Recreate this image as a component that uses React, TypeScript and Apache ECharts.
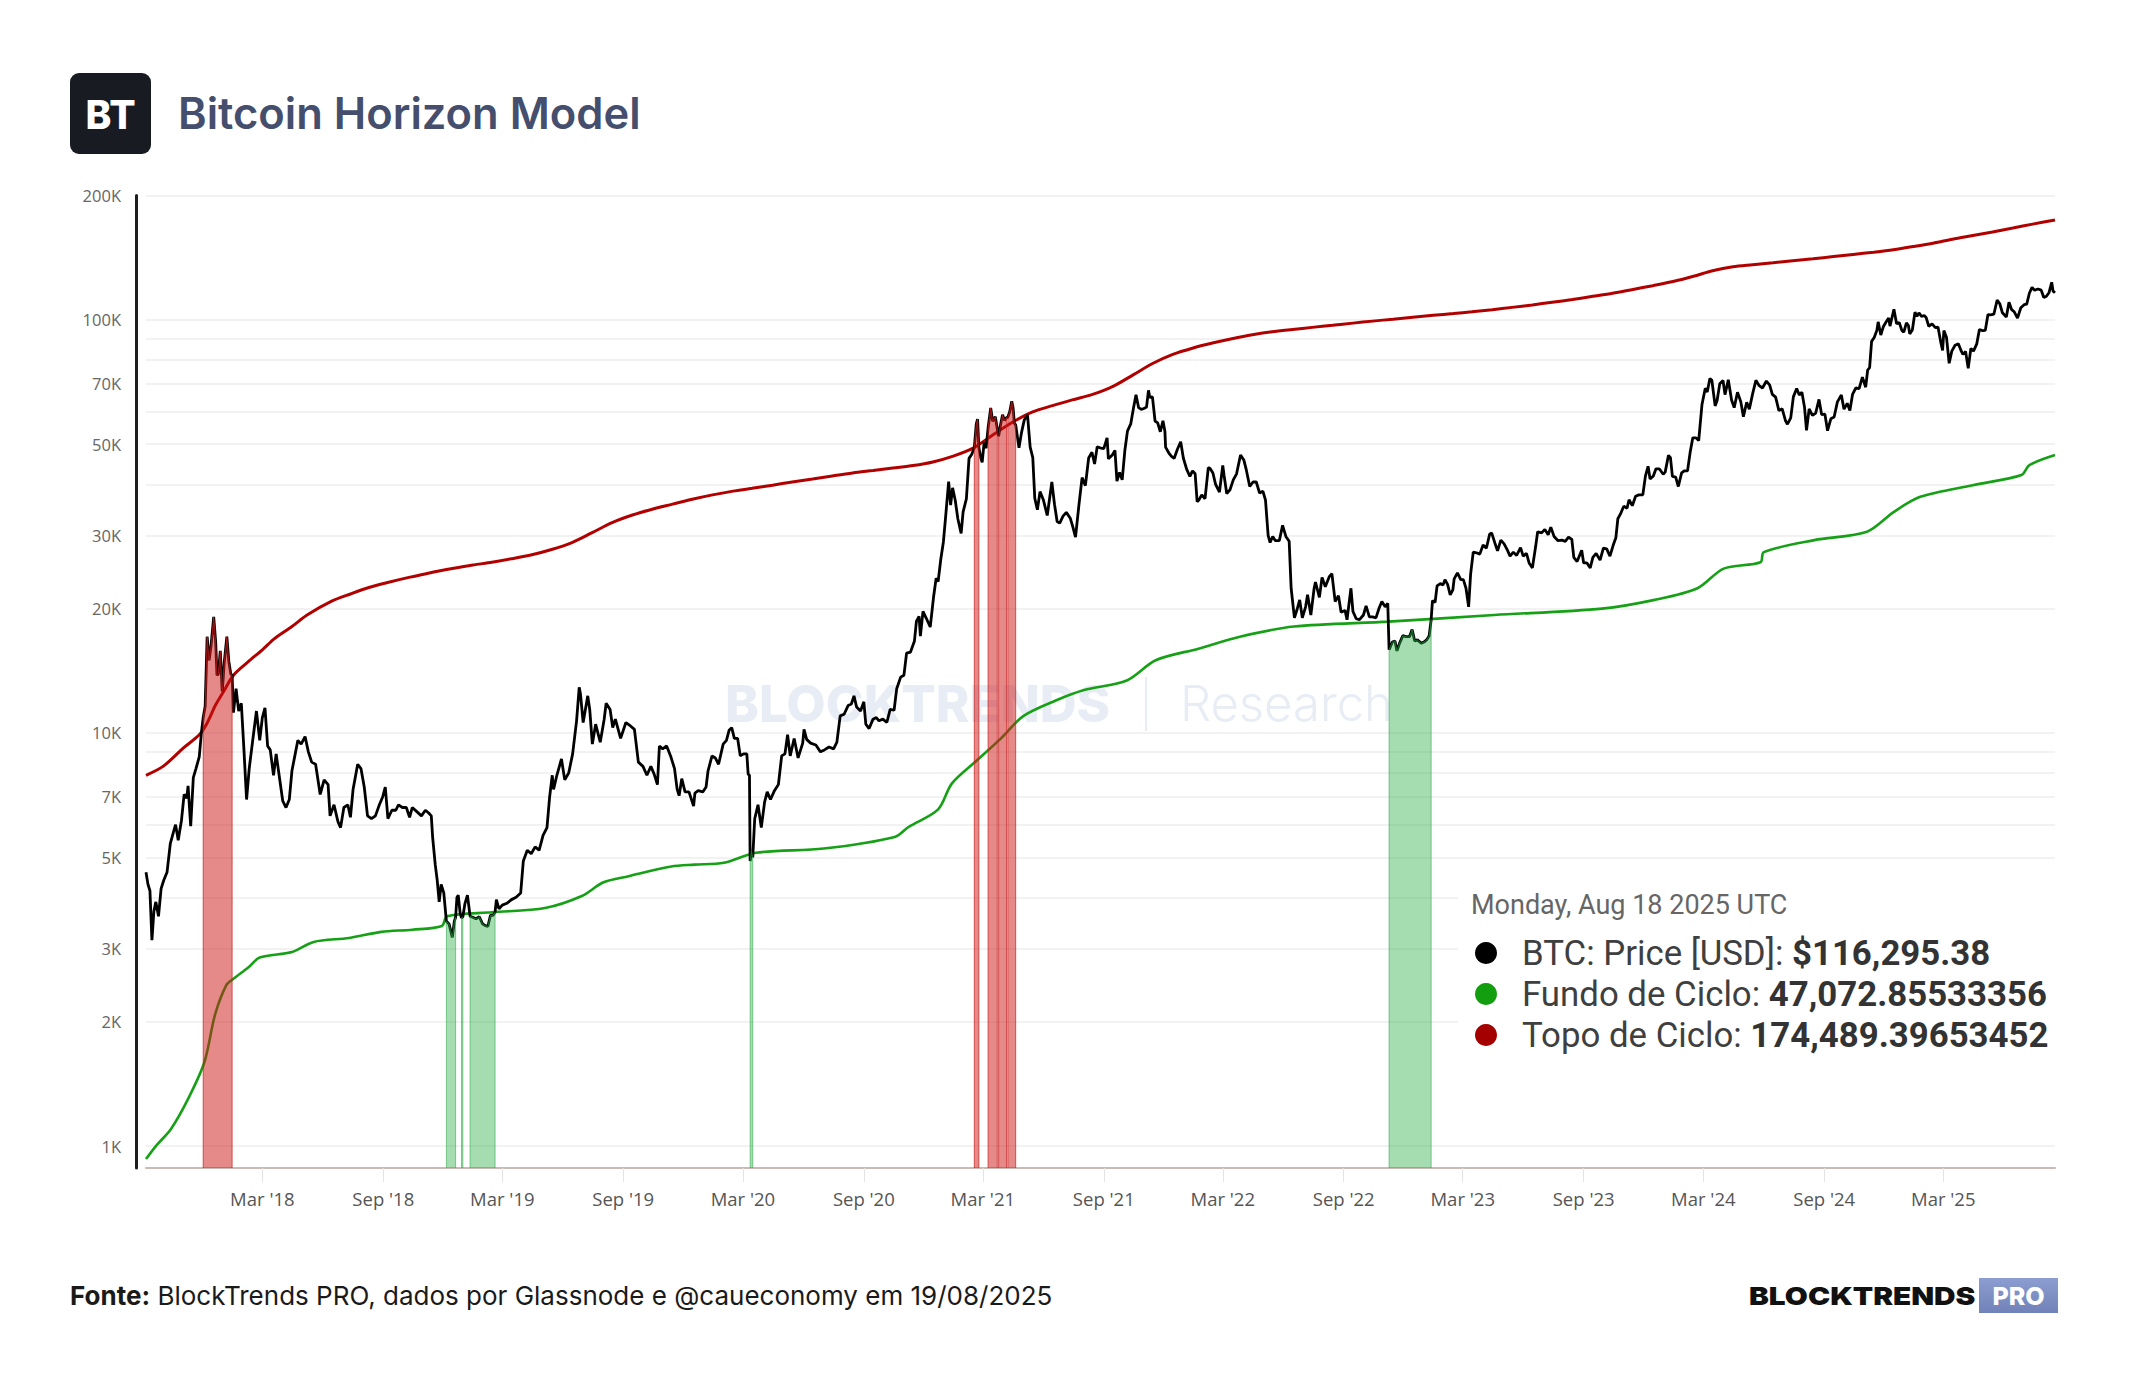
import React, { useEffect, useRef } from 'react';
import * as echarts from 'echarts';

// ---- axis setup -------------------------------------------------------
const xStart = '2017-09-05';
const xEnd = '2025-08-18';
const xTickDates = [
  '2018-03-01', '2018-09-01', '2019-03-01', '2019-09-01', '2020-03-01', '2020-09-01', '2021-03-01',
  '2021-09-01', '2022-03-01', '2022-09-01', '2023-03-01', '2023-09-01', '2024-03-01', '2024-09-01', '2025-03-01',
];
const yMinValue = 885;
const yMaxValue = 200000;
const yGridValues = [
  1000, 2000, 3000, 4000, 5000, 6000, 7000, 8000, 9000,
  10000, 20000, 30000, 40000, 50000, 60000, 70000, 80000, 90000, 100000, 200000,
];
const yLabelValues = [1000, 2000, 3000, 5000, 7000, 10000, 20000, 30000, 50000, 70000, 100000, 200000];

// ---- BTC price (USD) ---------------------------------------------------
const btcPrice: [string, number][] = [
  ['2017-09-05', 4600], ['2017-09-08', 4300], ['2017-09-11', 4150], ['2017-09-14', 3150], ['2017-09-17', 3700],
  ['2017-09-20', 3900], ['2017-09-24', 3600], ['2017-09-28', 4200], ['2017-10-02', 4400], ['2017-10-07', 4600],
  ['2017-10-12', 5400], ['2017-10-16', 5700], ['2017-10-20', 6000], ['2017-10-24', 5500], ['2017-10-29', 6150],
  ['2017-11-02', 7100], ['2017-11-06', 6950], ['2017-11-08', 7450], ['2017-11-12', 5950], ['2017-11-16', 7800],
  ['2017-11-20', 8200], ['2017-11-25', 8750], ['2017-11-28', 9900], ['2017-12-01', 10900], ['2017-12-04', 11600],
  ['2017-12-07', 17100], ['2017-12-10', 15000], ['2017-12-13', 16300], ['2017-12-17', 19100], ['2017-12-20', 16600],
  ['2017-12-22', 13800], ['2017-12-24', 13900], ['2017-12-27', 15800], ['2017-12-30', 12600], ['2018-01-02', 14800],
  ['2018-01-06', 17100], ['2018-01-09', 14900], ['2018-01-12', 13900], ['2018-01-14', 13800], ['2018-01-16', 11200],
  ['2018-01-20', 12800], ['2018-01-24', 11300], ['2018-01-28', 11800], ['2018-02-01', 9100], ['2018-02-05', 6900],
  ['2018-02-09', 8200], ['2018-02-14', 9500], ['2018-02-20', 11300], ['2018-02-25', 9600], ['2018-03-01', 10900],
  ['2018-03-05', 11500], ['2018-03-09', 9300], ['2018-03-13', 9100], ['2018-03-18', 7900], ['2018-03-22', 8900],
  ['2018-03-27', 7800], ['2018-04-01', 6850], ['2018-04-06', 6600], ['2018-04-11', 6900], ['2018-04-15', 8100],
  ['2018-04-20', 8900], ['2018-04-24', 9600], ['2018-04-29', 9400], ['2018-05-05', 9800], ['2018-05-10', 9000],
  ['2018-05-15', 8500], ['2018-05-21', 8400], ['2018-05-28', 7100], ['2018-06-03', 7700], ['2018-06-09', 7500],
  ['2018-06-12', 6300], ['2018-06-18', 6700], ['2018-06-24', 6100], ['2018-06-28', 5900], ['2018-07-03', 6600],
  ['2018-07-09', 6700], ['2018-07-13', 6250], ['2018-07-17', 7300], ['2018-07-24', 8400], ['2018-07-29', 8200],
  ['2018-08-03', 7400], ['2018-08-08', 6300], ['2018-08-14', 6200], ['2018-08-20', 6300], ['2018-08-26', 6700],
  ['2018-08-31', 7000], ['2018-09-04', 7400], ['2018-09-08', 6200], ['2018-09-14', 6500], ['2018-09-20', 6500],
  ['2018-09-24', 6700], ['2018-09-30', 6600], ['2018-10-06', 6600], ['2018-10-11', 6250], ['2018-10-15', 6600],
  ['2018-10-22', 6450], ['2018-10-29', 6300], ['2018-11-04', 6500], ['2018-11-09', 6400], ['2018-11-13', 6300],
  ['2018-11-15', 5600], ['2018-11-19', 4800], ['2018-11-22', 4400], ['2018-11-25', 3900], ['2018-11-28', 4300],
  ['2018-12-02', 4100], ['2018-12-06', 3500], ['2018-12-10', 3450], ['2018-12-15', 3200], ['2018-12-18', 3500],
  ['2018-12-20', 3580], ['2018-12-22', 4000], ['2018-12-24', 4050], ['2018-12-27', 3650], ['2018-12-29', 3570],
  ['2018-12-31', 3590], ['2019-01-03', 3850], ['2019-01-07', 4050], ['2019-01-11', 3600], ['2019-01-15', 3580],
  ['2019-01-20', 3550], ['2019-01-25', 3590], ['2019-01-30', 3450], ['2019-02-03', 3420], ['2019-02-07', 3400],
  ['2019-02-11', 3620], ['2019-02-15', 3620], ['2019-02-18', 3680], ['2019-02-20', 3950], ['2019-02-24', 3750],
  ['2019-03-01', 3830], ['2019-03-08', 3870], ['2019-03-15', 3950], ['2019-03-22', 4000], ['2019-03-29', 4100],
  ['2019-04-02', 4900], ['2019-04-08', 5200], ['2019-04-14', 5100], ['2019-04-20', 5300], ['2019-04-26', 5200],
  ['2019-05-02', 5650], ['2019-05-08', 5900], ['2019-05-12', 7000], ['2019-05-16', 7900], ['2019-05-18', 7300],
  ['2019-05-23', 7900], ['2019-05-30', 8650], ['2019-06-04', 7700], ['2019-06-10', 8000], ['2019-06-16', 8900],
  ['2019-06-22', 10700], ['2019-06-26', 12900], ['2019-06-28', 12400], ['2019-07-02', 10600], ['2019-07-09', 12300],
  ['2019-07-12', 11400], ['2019-07-16', 9400], ['2019-07-21', 10500], ['2019-07-28', 9500], ['2019-08-03', 10800],
  ['2019-08-06', 11800], ['2019-08-12', 11400], ['2019-08-16', 10300], ['2019-08-20', 10800], ['2019-08-28', 9700],
  ['2019-09-05', 10600], ['2019-09-12', 10400], ['2019-09-18', 10200], ['2019-09-24', 8500], ['2019-10-01', 8300],
  ['2019-10-07', 7900], ['2019-10-13', 8300], ['2019-10-18', 7950], ['2019-10-23', 7500], ['2019-10-26', 9300],
  ['2019-10-31', 9150], ['2019-11-06', 9300], ['2019-11-12', 8800], ['2019-11-18', 8200], ['2019-11-22', 7300],
  ['2019-11-25', 7050], ['2019-11-29', 7750], ['2019-12-04', 7200], ['2019-12-10', 7200], ['2019-12-17', 6650],
  ['2019-12-19', 7150], ['2019-12-24', 7250], ['2019-12-31', 7200], ['2020-01-05', 7400], ['2020-01-08', 8100],
  ['2020-01-14', 8800], ['2020-01-19', 8700], ['2020-01-24', 8400], ['2020-01-31', 9400], ['2020-02-05', 9600],
  ['2020-02-09', 10150], ['2020-02-13', 10300], ['2020-02-17', 9700], ['2020-02-22', 9700], ['2020-02-26', 8800],
  ['2020-03-02', 8900], ['2020-03-07', 8900], ['2020-03-09', 7950], ['2020-03-11', 7900], ['2020-03-12', 4900],
  ['2020-03-14', 5200], ['2020-03-16', 5000], ['2020-03-19', 6200], ['2020-03-24', 6700], ['2020-03-29', 5900],
  ['2020-04-03', 6800], ['2020-04-07', 7200], ['2020-04-12', 6900], ['2020-04-18', 7250], ['2020-04-24', 7500],
  ['2020-04-29', 8800], ['2020-05-04', 8900], ['2020-05-08', 9900], ['2020-05-12', 8800], ['2020-05-18', 9700],
  ['2020-05-24', 8700], ['2020-05-31', 9450], ['2020-06-02', 10200], ['2020-06-06', 9650], ['2020-06-12', 9450],
  ['2020-06-20', 9350], ['2020-06-27', 9000], ['2020-07-03', 9100], ['2020-07-10', 9250], ['2020-07-17', 9150],
  ['2020-07-22', 9500], ['2020-07-27', 11000], ['2020-08-02', 11100], ['2020-08-08', 11650], ['2020-08-13', 11750],
  ['2020-08-17', 12300], ['2020-08-21', 11550], ['2020-08-27', 11300], ['2020-09-01', 11900], ['2020-09-04', 10500],
  ['2020-09-09', 10250], ['2020-09-15', 10800], ['2020-09-20', 10900], ['2020-09-24', 10700], ['2020-09-30', 10800],
  ['2020-10-06', 10600], ['2020-10-11', 11400], ['2020-10-17', 11350], ['2020-10-21', 12800], ['2020-10-27', 13650],
  ['2020-11-01', 13800], ['2020-11-05', 15600], ['2020-11-11', 15700], ['2020-11-17', 16700], ['2020-11-20', 18650],
  ['2020-11-24', 19150], ['2020-11-26', 17150], ['2020-11-30', 19700], ['2020-12-05', 18950], ['2020-12-11', 18050],
  ['2020-12-16', 21300], ['2020-12-20', 23700], ['2020-12-23', 23250], ['2020-12-27', 26300], ['2020-12-31', 29000],
  ['2021-01-03', 32800], ['2021-01-08', 40600], ['2021-01-11', 35600], ['2021-01-14', 39200], ['2021-01-18', 36600],
  ['2021-01-22', 33000], ['2021-01-27', 30400], ['2021-01-30', 34300], ['2021-02-04', 36900], ['2021-02-08', 46200],
  ['2021-02-12', 47200], ['2021-02-16', 49000], ['2021-02-19', 55900], ['2021-02-21', 57500], ['2021-02-23', 49000],
  ['2021-02-26', 46300], ['2021-02-28', 45200], ['2021-03-03', 50500], ['2021-03-06', 48900], ['2021-03-09', 54800],
  ['2021-03-13', 61200], ['2021-03-16', 56800], ['2021-03-20', 58300], ['2021-03-23', 54500], ['2021-03-25', 52300],
  ['2021-03-28', 55800], ['2021-03-31', 58900], ['2021-04-03', 57100], ['2021-04-06', 58000], ['2021-04-08', 58100],
  ['2021-04-11', 60000], ['2021-04-14', 63500], ['2021-04-16', 61300], ['2021-04-18', 56200], ['2021-04-20', 55700],
  ['2021-04-25', 49000], ['2021-04-29', 53500], ['2021-05-03', 57200], ['2021-05-08', 58800], ['2021-05-12', 49200],
  ['2021-05-16', 46400], ['2021-05-19', 37000], ['2021-05-23', 34700], ['2021-05-27', 38400], ['2021-06-01', 36700],
  ['2021-06-07', 33600], ['2021-06-14', 40500], ['2021-06-18', 35800], ['2021-06-22', 32500], ['2021-06-26', 32200],
  ['2021-07-01', 33500], ['2021-07-06', 34200], ['2021-07-12', 33100], ['2021-07-16', 31500], ['2021-07-20', 29800],
  ['2021-07-25', 35400], ['2021-07-30', 41500], ['2021-08-04', 39700], ['2021-08-09', 46300], ['2021-08-14', 47800],
  ['2021-08-18', 44800], ['2021-08-22', 49300], ['2021-08-28', 48900], ['2021-09-01', 48800], ['2021-09-06', 51800],
  ['2021-09-08', 46100], ['2021-09-14', 47100], ['2021-09-18', 48300], ['2021-09-21', 40700], ['2021-09-25', 42700],
  ['2021-09-29', 41000], ['2021-10-03', 48200], ['2021-10-07', 53800], ['2021-10-12', 56000], ['2021-10-16', 60900],
  ['2021-10-20', 65900], ['2021-10-24', 61300], ['2021-10-28', 60700], ['2021-11-01', 61000], ['2021-11-05', 61500],
  ['2021-11-08', 67500], ['2021-11-10', 64900], ['2021-11-14', 65100], ['2021-11-18', 56900], ['2021-11-22', 56300],
  ['2021-11-26', 53600], ['2021-11-30', 57000], ['2021-12-03', 53700], ['2021-12-04', 49200], ['2021-12-09', 47600],
  ['2021-12-13', 46700], ['2021-12-17', 46200], ['2021-12-22', 48600], ['2021-12-27', 50700], ['2021-12-31', 46300],
  ['2022-01-05', 43500], ['2022-01-10', 41800], ['2022-01-14', 43100], ['2022-01-18', 42400], ['2022-01-21', 36300],
  ['2022-01-24', 36700], ['2022-01-28', 37700], ['2022-02-02', 36900], ['2022-02-07', 43900], ['2022-02-10', 43600],
  ['2022-02-14', 42600], ['2022-02-18', 40000], ['2022-02-24', 38300], ['2022-03-01', 44400], ['2022-03-03', 42000],
  ['2022-03-07', 38000], ['2022-03-12', 38800], ['2022-03-17', 41000], ['2022-03-22', 42400], ['2022-03-28', 47100],
  ['2022-04-02', 45800], ['2022-04-06', 43200], ['2022-04-11', 39500], ['2022-04-16', 40500], ['2022-04-21', 40500],
  ['2022-04-26', 38100], ['2022-05-01', 38500], ['2022-05-05', 36600], ['2022-05-09', 30100], ['2022-05-12', 28900],
  ['2022-05-16', 29900], ['2022-05-20', 29200], ['2022-05-26', 29200], ['2022-05-31', 31800], ['2022-06-05', 29900],
  ['2022-06-10', 29100], ['2022-06-13', 22400], ['2022-06-18', 19000], ['2022-06-22', 19900], ['2022-06-26', 21000],
  ['2022-06-30', 19000], ['2022-07-05', 20200], ['2022-07-08', 21600], ['2022-07-13', 19300], ['2022-07-18', 22400],
  ['2022-07-20', 23200], ['2022-07-26', 21300], ['2022-07-30', 23800], ['2022-08-04', 22600], ['2022-08-10', 23900],
  ['2022-08-14', 24300], ['2022-08-19', 20800], ['2022-08-24', 21500], ['2022-08-28', 19600], ['2022-09-03', 19800],
  ['2022-09-06', 18800], ['2022-09-12', 22400], ['2022-09-15', 19700], ['2022-09-20', 18900], ['2022-09-25', 18800],
  ['2022-10-01', 19300], ['2022-10-05', 20300], ['2022-10-10', 19100], ['2022-10-15', 19100], ['2022-10-20', 19000],
  ['2022-10-25', 20100], ['2022-10-29', 20800], ['2022-11-03', 20200], ['2022-11-07', 20600], ['2022-11-09', 15900],
  ['2022-11-14', 16600], ['2022-11-18', 16700], ['2022-11-21', 15800], ['2022-11-25', 16500], ['2022-11-30', 17200],
  ['2022-12-05', 17100], ['2022-12-10', 17100], ['2022-12-14', 17800], ['2022-12-18', 16700], ['2022-12-22', 16800],
  ['2022-12-28', 16500], ['2023-01-01', 16600], ['2023-01-05', 16800], ['2023-01-09', 17200], ['2023-01-12', 18800],
  ['2023-01-14', 20900], ['2023-01-18', 20700], ['2023-01-21', 22700], ['2023-01-26', 23000], ['2023-01-30', 22800],
  ['2023-02-02', 23500], ['2023-02-06', 22900], ['2023-02-10', 21600], ['2023-02-14', 22200], ['2023-02-16', 23600],
  ['2023-02-21', 24400], ['2023-02-26', 23500], ['2023-03-02', 23500], ['2023-03-06', 22400], ['2023-03-10', 20200],
  ['2023-03-13', 24200], ['2023-03-17', 27400], ['2023-03-22', 27300], ['2023-03-27', 27100], ['2023-04-01', 28500],
  ['2023-04-06', 28000], ['2023-04-11', 30300], ['2023-04-14', 30500], ['2023-04-19', 28800], ['2023-04-23', 27600],
  ['2023-04-28', 29300], ['2023-05-03', 28700], ['2023-05-08', 27700], ['2023-05-12', 26800], ['2023-05-17', 27400],
  ['2023-05-22', 26900], ['2023-05-28', 28100], ['2023-06-01', 26800], ['2023-06-06', 27200], ['2023-06-10', 25800],
  ['2023-06-15', 25100], ['2023-06-20', 28300], ['2023-06-23', 30700], ['2023-06-29', 30500], ['2023-07-04', 31100],
  ['2023-07-09', 30200], ['2023-07-13', 31500], ['2023-07-18', 29900], ['2023-07-24', 29200], ['2023-07-30', 29300],
  ['2023-08-04', 29100], ['2023-08-09', 29800], ['2023-08-14', 29400], ['2023-08-17', 26600], ['2023-08-22', 26000],
  ['2023-08-29', 27700], ['2023-09-01', 25800], ['2023-09-06', 25800], ['2023-09-11', 25100], ['2023-09-15', 26600],
  ['2023-09-20', 27200], ['2023-09-26', 26200], ['2023-10-01', 28000], ['2023-10-06', 27900], ['2023-10-11', 26800],
  ['2023-10-16', 28500], ['2023-10-20', 29700], ['2023-10-23', 33000], ['2023-10-27', 33900], ['2023-11-01', 35400],
  ['2023-11-06', 35000], ['2023-11-09', 36700], ['2023-11-14', 35500], ['2023-11-19', 37400], ['2023-11-24', 37700],
  ['2023-11-30', 37700], ['2023-12-04', 41900], ['2023-12-08', 44200], ['2023-12-11', 41200], ['2023-12-16', 41900],
  ['2023-12-20', 43600], ['2023-12-25', 43600], ['2023-12-31', 42300], ['2024-01-03', 42800], ['2024-01-08', 47000],
  ['2024-01-11', 46400], ['2024-01-14', 41800], ['2024-01-19', 41600], ['2024-01-23', 39500], ['2024-01-28', 42600],
  ['2024-02-01', 43100], ['2024-02-06', 43100], ['2024-02-10', 47800], ['2024-02-14', 51800], ['2024-02-19', 51800],
  ['2024-02-23', 51000], ['2024-02-28', 62400], ['2024-03-04', 68300], ['2024-03-07', 66900], ['2024-03-11', 72100],
  ['2024-03-14', 71400], ['2024-03-19', 61900], ['2024-03-22', 63800], ['2024-03-26', 70000], ['2024-03-31', 71300],
  ['2024-04-03', 65900], ['2024-04-08', 71600], ['2024-04-13', 64000], ['2024-04-17', 61300], ['2024-04-22', 66800],
  ['2024-04-27', 63400], ['2024-05-01', 58300], ['2024-05-06', 63200], ['2024-05-10', 60800], ['2024-05-15', 66200],
  ['2024-05-20', 71400], ['2024-05-25', 69300], ['2024-05-30', 68400], ['2024-06-05', 71100], ['2024-06-10', 69500],
  ['2024-06-14', 66000], ['2024-06-19', 65000], ['2024-06-24', 60300], ['2024-06-29', 60900], ['2024-07-04', 57000],
  ['2024-07-07', 55900], ['2024-07-12', 57900], ['2024-07-16', 65100], ['2024-07-21', 68200], ['2024-07-25', 65800],
  ['2024-07-29', 66800], ['2024-08-02', 61400], ['2024-08-05', 54000], ['2024-08-09', 60900], ['2024-08-14', 58700],
  ['2024-08-19', 59500], ['2024-08-24', 64200], ['2024-08-28', 59000], ['2024-09-02', 59100], ['2024-09-06', 53900],
  ['2024-09-11', 57600], ['2024-09-16', 58200], ['2024-09-21', 63300], ['2024-09-27', 65800], ['2024-10-01', 60800],
  ['2024-10-06', 62800], ['2024-10-10', 60300], ['2024-10-14', 66000], ['2024-10-19', 68400], ['2024-10-24', 68200],
  ['2024-10-29', 72700], ['2024-11-03', 68700], ['2024-11-06', 75600], ['2024-11-09', 76600], ['2024-11-12', 88700],
  ['2024-11-16', 90600], ['2024-11-20', 94300], ['2024-11-22', 98900], ['2024-11-26', 91900], ['2024-11-30', 96400],
  ['2024-12-04', 98800], ['2024-12-08', 101100], ['2024-12-10', 96600], ['2024-12-16', 106100], ['2024-12-20', 97800],
  ['2024-12-24', 98600], ['2024-12-28', 94300], ['2024-12-31', 93400], ['2025-01-04', 98300], ['2025-01-07', 96900],
  ['2025-01-09', 92500], ['2025-01-13', 94500], ['2025-01-17', 104400], ['2025-01-20', 102000], ['2025-01-23', 104000],
  ['2025-01-27', 102000], ['2025-01-31', 102400], ['2025-02-03', 101300], ['2025-02-07', 96500], ['2025-02-12', 97800],
  ['2025-02-17', 95800], ['2025-02-21', 96100], ['2025-02-25', 88700], ['2025-02-28', 84300], ['2025-03-02', 94200],
  ['2025-03-06', 90600], ['2025-03-10', 78500], ['2025-03-14', 84000], ['2025-03-19', 86800], ['2025-03-24', 87500],
  ['2025-03-28', 84300], ['2025-03-31', 82500], ['2025-04-04', 83800], ['2025-04-08', 76300], ['2025-04-12', 85300],
  ['2025-04-16', 84000], ['2025-04-21', 87500], ['2025-04-25', 94700], ['2025-04-30', 94200], ['2025-05-04', 94300],
  ['2025-05-08', 103000], ['2025-05-12', 102800], ['2025-05-17', 103200], ['2025-05-22', 111700], ['2025-05-26', 109400],
  ['2025-05-30', 104000], ['2025-06-05', 101600], ['2025-06-09', 110300], ['2025-06-13', 105900], ['2025-06-17', 104600],
  ['2025-06-22', 101000], ['2025-06-27', 107000], ['2025-07-02', 108800], ['2025-07-06', 109200], ['2025-07-10', 116000],
  ['2025-07-14', 119800], ['2025-07-18', 117900], ['2025-07-23', 118800], ['2025-07-28', 118000], ['2025-08-01', 113300],
  ['2025-08-05', 114100], ['2025-08-09', 116500], ['2025-08-13', 123300], ['2025-08-15', 117400], ['2025-08-18', 116295.38],
];

// ---- model bands ------------------------------------------------------
const cycleBottom: [string, number][] = [
  ['2017-09-05', 930], ['2017-09-20', 1000], ['2017-10-13', 1100], ['2017-11-09', 1310], ['2017-12-03', 1600],
  ['2017-12-19', 2080], ['2018-01-05', 2450], ['2018-01-16', 2540], ['2018-02-08', 2710], ['2018-02-25', 2860],
  ['2018-04-15', 2950], ['2018-05-18', 3120], ['2018-07-11', 3190], ['2018-08-29', 3300], ['2018-10-15', 3340],
  ['2018-11-29', 3410], ['2018-12-07', 3600], ['2019-02-13', 3680], ['2019-05-05', 3770], ['2019-06-30', 4030],
  ['2019-08-02', 4350], ['2019-09-09', 4500], ['2019-11-13', 4750], ['2019-12-18', 4800], ['2020-02-01', 4850],
  ['2020-03-21', 5130], ['2020-07-02', 5250], ['2020-10-18', 5600], ['2020-11-08', 5920], ['2020-12-23', 6530],
  ['2021-01-13', 7550], ['2021-02-21', 8610], ['2021-03-29', 9720], ['2021-05-01', 10970], ['2021-06-20', 11980],
  ['2021-08-02', 12700], ['2021-10-06', 13400], ['2021-11-19', 15000], ['2022-01-23', 16000], ['2022-03-27', 17100],
  ['2022-06-17', 18100], ['2022-11-08', 18600], ['2023-04-18', 19300], ['2023-09-29', 20000], ['2023-12-18', 21000],
  ['2024-02-21', 22400], ['2024-04-01', 25000], ['2024-05-27', 25900], ['2024-06-01', 27400], ['2024-08-17', 29300],
  ['2024-11-05', 30700], ['2024-12-16', 34300], ['2025-01-25', 37300], ['2025-04-15', 39800], ['2025-06-28', 42100],
  ['2025-07-10', 44500], ['2025-08-18', 47072.85533356],
];

const cycleTop: [string, number][] = [
  ['2017-09-05', 7900], ['2017-10-01', 8300], ['2017-11-01', 9200], ['2017-11-25', 9900], ['2017-12-06', 10500],
  ['2017-12-20', 11700], ['2018-01-01', 12600], ['2018-01-16', 13800], ['2018-02-08', 14900], ['2018-03-01', 15900],
  ['2018-03-19', 16900], ['2018-04-15', 18100], ['2018-05-08', 19300], ['2018-06-13', 20800], ['2018-07-13', 21700],
  ['2018-08-10', 22500], ['2018-09-06', 23100], ['2018-10-10', 23800], ['2018-11-10', 24400], ['2018-12-15', 25000],
  ['2019-01-15', 25500], ['2019-02-13', 25900], ['2019-03-15', 26400], ['2019-04-15', 27000], ['2019-05-15', 27800],
  ['2019-06-15', 28900], ['2019-07-15', 30500], ['2019-08-15', 32300], ['2019-09-15', 33700], ['2019-10-15', 34800],
  ['2019-11-15', 35800], ['2019-12-15', 36800], ['2020-01-15', 37700], ['2020-02-15', 38500], ['2020-03-15', 39100],
  ['2020-04-15', 39800], ['2020-05-15', 40500], ['2020-06-15', 41200], ['2020-07-15', 41900], ['2020-08-15', 42600],
  ['2020-09-15', 43200], ['2020-10-15', 43800], ['2020-11-15', 44400], ['2020-12-15', 45300], ['2021-01-15', 46800],
  ['2021-02-15', 49000], ['2021-03-15', 52500], ['2021-04-15', 56500], ['2021-05-15', 59800], ['2021-06-15', 62000],
  ['2021-07-15', 64000], ['2021-08-15', 66000], ['2021-09-15', 69000], ['2021-10-15', 73500], ['2021-11-15', 78500],
  ['2021-12-15', 82500], ['2022-01-15', 85500], ['2022-02-15', 88000], ['2022-03-15', 90000], ['2022-04-15', 92000],
  ['2022-05-15', 93600], ['2022-06-15', 94800], ['2022-07-15', 95900], ['2022-08-15', 97000], ['2022-09-15', 98200],
  ['2022-10-15', 99300], ['2022-11-15', 100400], ['2022-12-15', 101500], ['2023-01-15', 102600], ['2023-02-15', 103600],
  ['2023-03-15', 104600], ['2023-04-15', 105800], ['2023-05-15', 107200], ['2023-06-15', 108700], ['2023-07-15', 110300],
  ['2023-08-15', 112000], ['2023-09-15', 114000], ['2023-10-15', 116000], ['2023-11-15', 118500], ['2023-12-15', 121000],
  ['2024-01-15', 123800], ['2024-02-15', 127500], ['2024-03-15', 131500], ['2024-04-15', 134500], ['2024-05-15', 136000],
  ['2024-06-15', 137500], ['2024-07-15', 139000], ['2024-08-15', 140600], ['2024-09-15', 142300], ['2024-10-15', 144000],
  ['2024-11-15', 145800], ['2024-12-15', 147800], ['2025-01-15', 150500], ['2025-02-15', 153500], ['2025-03-15', 156800],
  ['2025-04-15', 160000], ['2025-05-15', 163200], ['2025-06-15', 166800], ['2025-07-15', 170500], ['2025-08-18', 174489.39653452],
];

// periods where the price sits above the top / below the bottom
const aboveTopPeriods: [string, string][] = [
  ['2017-12-01', '2018-01-14'],
  ['2021-02-16', '2021-02-23'],
  ['2021-03-09', '2021-03-23'],
  ['2021-03-25', '2021-04-06'],
  ['2021-04-08', '2021-04-20'],
];
const belowBottomPeriods: [string, string][] = [
  ['2018-12-06', '2018-12-20'],
  ['2018-12-29', '2018-12-31'],
  ['2019-01-11', '2019-02-18'],
  ['2020-03-12', '2020-03-16'],
  ['2022-11-09', '2023-01-12'],
];

// ---- helpers ------------------------------------------------------------
const ts = (d: string) => Date.parse(d + 'T00:00:00Z');
const lg = (v: number) => Math.log10(v);
const yMin = lg(yMinValue);
const yMax = lg(yMaxValue);
const toSeries = (rows: [string, number][]) => rows.map(([d, v]) => [ts(d), lg(v)]);

const fmtK = (v: number) => `${Math.round(Math.pow(10, v) / 1000)}K`;
const fmtDate = (v: number) => {
  const d = new Date(v);
  const m = d.getUTCMonth() === 2 ? 'Mar' : 'Sep';
  return `${m} '${String(d.getUTCFullYear()).slice(2)}`;
};
const fmtNum = (v: number, digits: number) =>
  v.toLocaleString('en-US', { minimumFractionDigits: digits, maximumFractionDigits: digits });

const periodSeries = (periods: [string, string][], fill: string, edge: string) =>
  periods.map(([s, e]) => {
    const a = ts(s);
    const b = ts(e);
    const pts = btcPrice.filter(([d]) => ts(d) >= a && ts(d) <= b).map(([d, v]) => [ts(d), lg(v)]);
    return {
      type: 'line',
      data: [[a, yMin], ...pts, [b, yMin]],
      showSymbol: false,
      silent: true,
      z: 4,
      lineStyle: { color: edge, width: 1 },
      areaStyle: { color: fill, origin: 'start', opacity: 1 },
    };
  });

const SANS = 'Inter, "Noto Sans", sans-serif';
const AXIS_FONT = '"Open Sans", "Noto Sans", sans-serif';

const lastPrice = btcPrice[btcPrice.length - 1][1];
const lastBottom = cycleBottom[cycleBottom.length - 1][1];
const lastTop = cycleTop[cycleTop.length - 1][1];

const txt = (x: number, y: number, text: string, style: any, extra: any = {}) => ({
  type: 'text',
  x,
  y,
  silent: true,
  ...extra,
  style: { text, align: 'left', textAlign: 'left', verticalAlign: 'middle', textVerticalAlign: 'middle', ...style },
});

const legendRow = (y: number, color: string, label: string, value: string) => [
  { type: 'circle', z: 11, shape: { cx: 1486, cy: y, r: 11 }, style: { fill: color }, silent: true },
  txt(1522, y, `{n|${label} }{b|${value}}`, {
    rich: {
      n: { fontSize: 34.8, fontFamily: 'Roboto', fill: '#3f3f3f', color: '#3f3f3f' },
      b: { fontSize: 34.8, fontFamily: 'Roboto', fontWeight: 'bold', fill: '#333333', color: '#333333' },
    },
  }, { z: 11 }),
];

const option: any = {
  animation: false,
  backgroundColor: '#ffffff',
  grid: { left: 146, right: 89, top: 195.5, bottom: 232, containLabel: false },
  xAxis: {
    type: 'value',
    min: ts(xStart),
    max: ts(xEnd),
    axisLine: { show: true, lineStyle: { color: '#cbb9b3', width: 2 } },
    axisTick: {
      show: true,
      customValues: xTickDates.map(ts),
      length: 14,
      lineStyle: { color: '#e4e4e4', width: 1 },
    },
    axisLabel: {
      customValues: xTickDates.map(ts),
      formatter: fmtDate,
      color: '#555555',
      fontSize: 18.5,
      fontFamily: AXIS_FONT,
      margin: 21,
    },
    splitLine: { show: false },
  },
  yAxis: {
    type: 'value',
    min: yMin,
    max: yMax,
    offset: 10,
    axisLine: { show: true, lineStyle: { color: '#1e1e1e', width: 3 } },
    axisTick: { show: false, customValues: yGridValues.map(lg) },
    axisLabel: {
      customValues: yLabelValues.map(lg),
      formatter: fmtK,
      color: '#666666',
      fontSize: 16.5,
      fontFamily: AXIS_FONT,
      margin: 15,
    },
    splitLine: { show: true, lineStyle: { color: '#eeeeee', width: 1.5 } },
  },
  series: [
    {
      name: 'Topo de Ciclo',
      type: 'line',
      data: toSeries(cycleTop),
      showSymbol: false,
      smooth: 0.3,
      z: 2,
      lineStyle: { color: '#b10000', width: 3 },
    },
    {
      name: 'Fundo de Ciclo',
      type: 'line',
      data: toSeries(cycleBottom),
      showSymbol: false,
      smooth: 0.3,
      z: 2,
      lineStyle: { color: '#16a016', width: 2.6 },
    },
    {
      name: 'BTC: Price [USD]',
      type: 'line',
      data: toSeries(btcPrice),
      showSymbol: false,
      z: 3,
      lineStyle: { color: '#000000', width: 2.8 },
    },
    ...periodSeries(aboveTopPeriods, 'rgba(205,20,20,0.5)', 'rgba(200,30,30,0.7)'),
    ...periodSeries(belowBottomPeriods, 'rgba(30,170,60,0.4)', 'rgba(40,165,70,0.55)'),
  ],
  graphic: [
    // watermark
    txt(725, 703, 'BLOCKTRENDS', { fontSize: 51, fontWeight: 800, fontFamily: SANS, fill: '#e8edf5' }, { z: 0 }),
    {
      type: 'line',
      z: 0,
      silent: true,
      shape: { x1: 1146, y1: 677, x2: 1146, y2: 731 },
      style: { stroke: '#e8edf5', lineWidth: 2 },
    },
    txt(1180, 703, 'Research', { fontSize: 49, fontWeight: 300, fontFamily: SANS, fill: '#e8edf5' }, { z: 0 }),
    // header
    {
      type: 'rect',
      silent: true,
      shape: { x: 70, y: 73, width: 81, height: 81, r: 9 },
      style: { fill: '#181b22' },
    },
    txt(110.5, 114, 'BT', { fontSize: 39, fontWeight: 800, fontFamily: SANS, fill: '#ffffff', align: 'center', textAlign: 'center' }),
    txt(178, 113, 'Bitcoin Horizon Model', { fontSize: 43.5, fontWeight: 600, fontFamily: SANS, fill: '#454e6d' }),
    // value readout, on a white panel over the grid
    {
      type: 'rect',
      z: 10,
      silent: true,
      shape: { x: 1458, y: 878, width: 598, height: 180 },
      style: { fill: '#ffffff' },
    },
    txt(1471, 905, 'Monday, Aug 18 2025 UTC', { fontSize: 27, fontFamily: 'Roboto', fill: '#666666' }, { z: 11 }),
    ...legendRow(953, '#000000', 'BTC: Price [USD]:', '$' + fmtNum(lastPrice, 2)),
    ...legendRow(994, '#129e0e', 'Fundo de Ciclo:', fmtNum(lastBottom, 8)),
    ...legendRow(1035, '#a40000', 'Topo de Ciclo:', fmtNum(lastTop, 8)),
    // footer
    txt(70, 1295, '{b|Fonte:}{n| BlockTrends PRO, dados por Glassnode e @caueconomy em 19/08/2025}', {
      rich: {
        b: { fontSize: 26, fontWeight: 700, fontFamily: SANS, fill: '#1a1a1a', color: '#1a1a1a' },
        n: { fontSize: 26, fontWeight: 400, fontFamily: SANS, fill: '#1a1a1a', color: '#1a1a1a' },
      },
    }),
    txt(1749, 1296, 'BLOCKTRENDS', { fontSize: 25, fontWeight: 900, fontFamily: SANS, fill: '#111111' }, { scaleX: 1.19 }),
    {
      type: 'rect',
      silent: true,
      shape: { x: 1979, y: 1278, width: 79, height: 35 },
      style: {
        fill: new echarts.graphic.LinearGradient(0, 0, 0, 1, [
          { offset: 0, color: '#8c9dd1' },
          { offset: 1, color: '#7082b7' },
        ]),
      },
    },
    txt(2018.5, 1296, 'PRO', { fontSize: 25, fontWeight: 800, fontFamily: SANS, fill: '#ffffff', align: 'center', textAlign: 'center' }),
  ],
};

export default function App() {
  const ref = useRef<HTMLDivElement>(null);
  useEffect(() => {
    document.body.style.margin = '0';
    const chart = echarts.init(ref.current!, null, { renderer: 'svg' });
    chart.setOption(option);
    return () => chart.dispose();
  }, []);
  return <div ref={ref} style={{ width: 2144, height: 1400, background: '#ffffff' }} />;
}
